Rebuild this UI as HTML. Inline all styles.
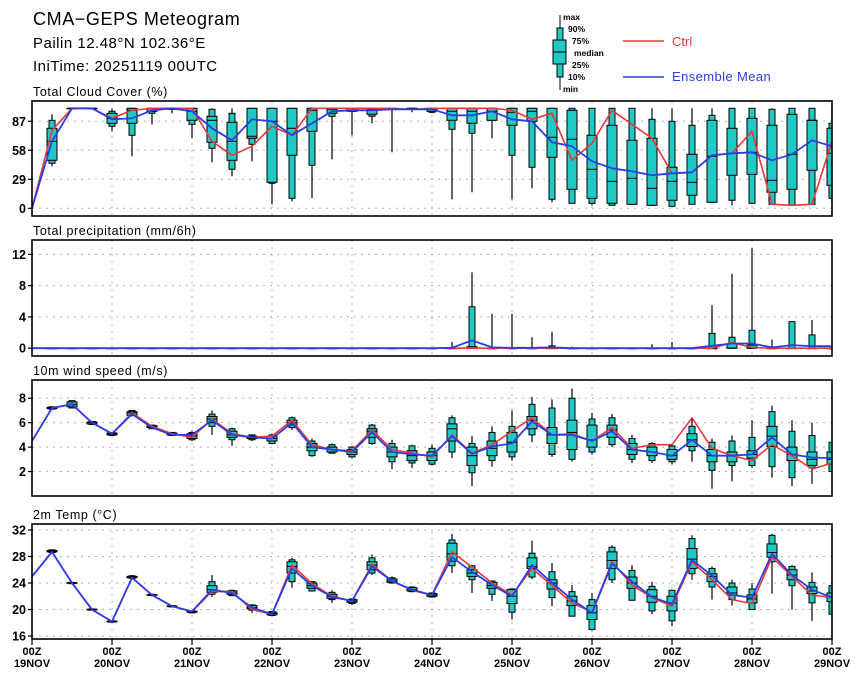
<!DOCTYPE html>
<html><head><meta charset="utf-8"><title>CMA-GEPS Meteogram</title>
<style>
html,body{margin:0;padding:0;background:#fff;}
svg{display:block;font-family:"Liberation Sans",sans-serif;}
</style></head>
<body>
<svg id="chart" width="860" height="678" viewBox="0 0 860 678" xmlns="http://www.w3.org/2000/svg">
<rect x="0" y="0" width="860" height="678" fill="#fff"/>
<text x="33" y="25" font-size="18" letter-spacing="0.6">CMA−GEPS Meteogram</text>
<text x="33" y="48" font-size="15" letter-spacing="0.5">Pailin  12.48°N  102.36°E</text>
<text x="33" y="71" font-size="15" letter-spacing="0.5">IniTime: 20251119 00UTC</text>
<g>
  <line x1="560" y1="15" x2="560" y2="90" stroke="#000" stroke-width="1"/>
  <rect x="557" y="28" width="6" height="49" fill="#1fc8c2" stroke="#000"/>
  <rect x="553" y="40" width="13" height="24" fill="#1fc8c2" stroke="#000"/>
  <line x1="553" y1="52" x2="566" y2="52" stroke="#000"/>
  <g font-size="8.5" font-weight="bold">
    <text x="563" y="20">max</text>
    <text x="568" y="32">90%</text>
    <text x="572" y="44">75%</text>
    <text x="574" y="56">median</text>
    <text x="572" y="68">25%</text>
    <text x="568" y="80">10%</text>
    <text x="563" y="92">min</text>
  </g>
  <line x1="623" y1="41" x2="664" y2="41" stroke="#e8383a" stroke-width="1.5"/>
  <text x="672" y="46" font-size="13" fill="#e8383a">Ctrl</text>
  <line x1="623" y1="77" x2="664" y2="77" stroke="#2a3ee8" stroke-width="1.5"/>
  <text x="672" y="81" font-size="13" fill="#2a3ee8" letter-spacing="0.4">Ensemble Mean</text>
</g>
<g id="panels"></g>
</svg>
<script>
// ---------- time axis ----------
const dayLabels = ["19NOV","20NOV","21NOV","22NOV","23NOV","24NOV","25NOV","26NOV","27NOV","28NOV","29NOV"];
const nSteps = 41; // 6-hourly steps

// ---------- Total cloud cover ----------
const cloudCtrl = [0,78,100,100,90,98,100,100,100,67,53,62,82,73,100,100,100,100,100,99,100,100,100,100,98,89,95,48,65,98,84,70,35,36,53,55,77,4,3,4,67];
const cloudMean = [0,67,100,100,89,90,98,100,97,80,68,89,87,73,85,97,98,98,99,99,99,93,93,97,89,87,66,62,47,40,37,33,35,36,53,55,56,48,54,68,62];
const cloudMax = [null,94,100,100,100,100,100,100,100,100,100,100,100,100,100,100,100,100,100,100,100,100,100,100,100,100,100,100,100,100,100,100,100,100,100,100,100,100,100,100,100];
const cloudP90 = [null,88,100,100,97,100,100,100,100,99,95,100,100,100,100,100,100,100,100,100,100,100,100,100,100,100,100,100,100,100,100,89,87,83,93,100,100,99,100,100,85];
const cloudP75 = [null,80,100,100,95,100,100,100,100,92,86,100,100,100,100,100,100,99,100,100,100,100,100,100,100,100,100,98,73,83,68,70,41,54,88,80,90,83,94,88,80];
const cloudMed = [null,67,100,100,90,98,100,100,97,88,67,72,87,80,98,99,100,99,100,100,99,97,97,97,96,97,71,69,39,27,30,20,27,26,52,55,56,28,54,88,55];
const cloudP25 = [null,48,100,100,85,85,97,99,88,66,48,70,26,53,77,95,97,94,99,99,97,88,85,88,83,87,51,19,10,5,4,3,8,13,6,33,34,16,19,38,23];
const cloudP10 = [null,45,100,100,82,73,95,99,84,60,39,64,25,10,43,92,97,92,99,99,96,79,75,88,53,41,9,5,5,3,4,3,2,4,6,8,5,4,3,4,10];
const cloudMin = [null,42,100,100,77,52,84,95,70,46,32,47,4,7,10,49,73,85,56,96,95,9,16,70,9,20,6,5,3,3,3,3,2,4,6,3,5,4,3,4,5];
const cloudTicks = [0,29,58,87];

// ---------- Precipitation ----------
const precCtrl = [0,0,0,0,0,0,0,0,0,0,0,0,0,0,0,0,0,0,0,0,0,0,0,0,0,0,0,0,0,0,0,0,0,0,0,0.7,0.1,0,0,0,0];
const precMean = [0,0,0,0,0,0,0,0,0,0,0,0,0,0,0,0,0,0,0,0,0,0.05,1.0,0.1,0.05,0.05,0.1,0,0,0,0,0,0,0,0.3,0.6,0.6,0.1,0.4,0.25,0.25];
const precMax = [null,0,0,0,0,0,0,0,0,0,0,0,0,0,0,0,0,0,0,0,0,0.8,9.7,4.4,4.4,1.4,2.1,0.2,0,0,0,0.5,0.8,0,5.5,9.5,12.8,1.1,3.4,3.6,0.3];
const precP90 = [null,0,0,0,0,0,0,0,0,0,0,0,0,0,0,0,0,0,0,0,0,0,5.3,0,0,0,0.3,0,0,0,0,0,0,0,1.9,1.4,2.3,0,3.4,1.7,0];
const precP75 = [null,0,0,0,0,0,0,0,0,0,0,0,0,0,0,0,0,0,0,0,0,0,0.2,0,0,0,0,0,0,0,0,0,0,0,0,0.6,0.4,0,0,0,0];
const precMed = [null,0,0,0,0,0,0,0,0,0,0,0,0,0,0,0,0,0,0,0,0,0,0,0,0,0,0,0,0,0,0,0,0,0,0,0,0,0,0,0,0];
const precP25 = [null,0,0,0,0,0,0,0,0,0,0,0,0,0,0,0,0,0,0,0,0,0,0,0,0,0,0,0,0,0,0,0,0,0,0,0,0,0,0,0,0];
const precP10 = [null,0,0,0,0,0,0,0,0,0,0,0,0,0,0,0,0,0,0,0,0,0,0,0,0,0,0,0,0,0,0,0,0,0,0,0,0,0,0,0,0];
const precMin = [null,0,0,0,0,0,0,0,0,0,0,0,0,0,0,0,0,0,0,0,0,0,0,0,0,0,0,0,0,0,0,0,0,0,0,0,0,0,0,0,0];
const precTicks = [0,4,8,12];

// ---------- 10m wind ----------
const windCtrl = [4.5,7.2,7.5,6.0,5.1,6.8,5.7,5.1,4.8,6.3,5.1,4.8,4.9,6.2,4.2,3.8,3.7,5.4,3.8,3.5,3.2,5.0,3.5,4.2,5.3,6.4,5.0,5.1,4.5,5.6,3.9,4.2,4.2,6.4,3.9,3.3,2.9,4.2,3.3,2.2,2.7];
const windMean = [4.5,7.2,7.5,6.0,5.1,6.7,5.6,5.0,5.0,6.2,5.0,4.8,4.7,6.0,4.0,3.8,3.6,5.2,3.6,3.4,3.3,4.9,3.45,4.05,4.3,6.1,5.0,5.0,4.5,5.3,3.8,3.6,3.3,4.6,3.3,3.3,3.4,4.8,3.4,3.15,3.1];
const windMax = [null,7.3,7.8,6.1,5.2,7.0,5.8,5.2,5.3,7.0,5.6,5.0,5.1,6.5,4.7,4.3,4.1,5.9,4.6,4.2,4.2,6.6,4.9,5.7,7.0,8.1,7.9,8.8,6.8,6.7,5.0,4.4,4.2,6.4,4.7,4.95,6.2,7.4,6.2,6.0,4.4];
const windP90 = [null,7.3,7.8,6.1,5.2,7.0,5.8,5.2,5.2,6.7,5.5,5.0,5.0,6.4,4.5,4.2,4.0,5.8,4.3,4.1,3.9,6.4,4.3,5.2,5.7,7.5,7.2,8.0,6.3,6.4,4.7,4.3,4.1,5.7,4.4,4.5,4.8,6.9,5.3,4.95,4.4];
const windP75 = [null,7.25,7.7,6.05,5.15,6.9,5.75,5.15,5.1,6.5,5.3,4.9,4.9,6.2,4.3,4.0,3.8,5.5,4.0,3.7,3.6,5.9,4.0,4.5,5.2,6.5,5.6,6.2,5.8,5.8,4.3,4.0,3.8,5.1,3.8,3.6,3.7,5.7,4.0,3.6,3.6];
const windMed = [null,7.2,7.5,6.0,5.1,6.8,5.7,5.1,4.9,6.3,5.0,4.8,4.7,6.0,4.0,3.8,3.6,5.3,3.6,3.3,3.3,5.5,3.3,3.9,4.4,6.2,5.0,5.2,4.6,5.4,3.8,3.6,3.3,4.6,3.3,3.3,3.4,4.9,3.4,3.0,3.0];
const windP25 = [null,7.15,7.3,5.9,5.0,6.6,5.6,5.0,4.7,6.0,4.8,4.7,4.5,5.8,3.7,3.6,3.4,4.8,3.2,2.9,2.9,4.5,2.5,3.3,3.6,5.5,4.3,3.8,4.0,4.8,3.4,3.3,3.0,4.05,2.8,2.8,3.1,4.05,2.9,2.5,2.6];
const windP10 = [null,7.1,7.2,5.85,4.95,6.6,5.5,4.95,4.6,5.7,4.6,4.6,4.3,5.6,3.3,3.5,3.2,4.3,2.8,2.7,2.6,3.6,1.9,2.9,3.2,5.0,3.4,3.0,3.6,4.2,3.0,2.9,2.8,3.7,2.1,2.5,2.5,2.4,1.5,2.3,2.0];
const windMin = [null,7.1,7.2,5.8,4.9,6.5,5.5,4.9,4.5,5.0,4.1,4.5,4.3,5.4,3.2,3.5,3.1,4.2,2.2,2.3,2.5,3.1,0.8,2.4,2.9,4.4,3.2,2.8,3.4,4.0,2.7,2.7,2.6,2.8,0.6,1.2,2.3,1.5,0.8,1.0,2.0];
const windTicks = [2,4,6,8];

// ---------- 2m temperature ----------
const tempCtrl = [25.0,28.7,24.0,20.0,18.2,24.8,22.2,20.5,19.7,22.7,22.7,20.0,19.3,26.7,23.9,22.0,21.3,26.8,24.3,22.9,22.2,28.7,26.4,24.0,22.2,26.2,23.6,21.0,19.6,27.2,23.7,21.8,20.5,27.2,24.5,21.5,20.9,27.9,25.0,22.2,21.8];
const tempMean = [25.0,28.7,24.0,20.0,18.2,24.8,22.2,20.5,19.7,23.0,22.5,20.3,19.3,26.2,23.6,21.9,21.3,26.5,24.3,23.0,22.2,27.9,25.7,23.7,22.0,26.7,24.0,21.5,19.5,26.95,24.2,21.9,20.8,27.5,25.1,22.2,21.8,28.4,25.2,23.0,21.8];
const tempMax = [null,29.1,24.2,20.2,18.4,25.2,22.4,20.7,19.9,25.2,23.0,20.8,19.8,27.8,24.3,22.9,21.7,28.3,25.0,23.5,22.6,31.4,26.7,24.4,23.2,30.4,27.0,23.7,22.5,29.7,26.7,24.2,23.0,31.2,26.5,24.5,24.0,31.4,26.7,25.6,23.7];
const tempP90 = [null,29.0,24.1,20.1,18.3,25.1,22.3,20.6,19.8,24.2,22.9,20.7,19.7,27.5,24.2,22.6,21.6,27.8,24.8,23.4,22.5,30.5,26.6,24.3,23.1,28.5,25.7,22.7,21.5,29.4,25.9,23.5,22.9,30.7,26.2,24.0,23.1,31.2,26.5,24.1,23.6];
const tempP75 = [null,28.9,24.05,20.05,18.25,25.0,22.25,20.55,19.75,23.6,22.8,20.6,19.6,27.2,24.0,22.3,21.5,27.2,24.6,23.3,22.4,30.0,26.0,24.1,23.0,27.8,24.5,22.0,20.6,28.7,24.9,23.0,22.0,29.2,25.4,23.4,22.2,29.9,26.0,23.4,22.5];
const tempMed = [null,28.8,24.0,20.0,18.2,24.9,22.2,20.5,19.7,23.0,22.5,20.3,19.4,26.5,23.6,22.0,21.3,26.7,24.3,23.0,22.2,28.4,25.5,23.6,22.0,26.5,24.0,21.3,19.5,27.4,24.0,22.0,21.0,27.6,25.0,22.5,21.6,28.6,25.2,22.8,22.0];
const tempP25 = [null,28.7,23.95,19.95,18.15,24.8,22.15,20.45,19.6,22.6,22.3,20.1,19.2,25.5,23.2,21.7,21.1,26.0,24.1,22.8,22.0,27.3,25.0,23.2,20.9,26.2,23.1,20.6,18.5,26.2,23.2,21.1,19.8,26.2,24.2,22.2,21.0,27.9,24.5,22.4,21.2];
const tempP10 = [null,28.6,23.9,19.9,18.1,24.7,22.1,20.4,19.5,22.3,22.1,19.9,19.1,24.2,22.8,21.5,20.9,25.5,24.0,22.7,21.9,26.6,24.5,22.3,19.6,24.9,21.8,19.0,17.0,24.5,21.4,19.8,18.3,25.4,23.4,21.5,20.0,27.2,23.6,21.0,19.3];
const tempMin = [null,28.6,23.9,19.9,18.0,24.6,22.0,20.3,19.4,21.9,22.0,19.5,19.0,23.3,22.7,21.0,20.7,25.2,23.9,22.6,21.8,25.5,22.5,21.3,18.5,24.6,20.5,19.0,16.8,24.0,21.4,19.3,17.5,24.5,21.5,20.6,20.0,22.4,20.0,18.3,19.3];
const tempTicks = [16,20,24,28,32];

// ---------- drawing ----------
const NS = "http://www.w3.org/2000/svg";
const X0 = 32, X1 = 832;
function xScale(i){ return X0 + (X1 - X0) * i / (nSteps - 1); }
function mk(tag, attrs, parent){
  const e = document.createElementNS(NS, tag);
  for (const k in attrs) e.setAttribute(k, attrs[k]);
  parent.appendChild(e);
  return e;
}
const root = document.getElementById("panels");

function drawPanel(p){
  const g = mk("g", {}, root);
  
  
  const y = v => p.bot - (v - p.vmin) * (p.bot - p.top) / (p.vmax - p.vmin);
  const t = mk("text", {x:33, y:p.top-5, "font-size":12.5, "letter-spacing":0.6}, g);
  t.textContent = p.title;
  
  
  // grid
  for (let d = 1; d < dayLabels.length - 1; d++){
    const gx = xScale(d*4);
    const l = mk("line", {x1:gx, x2:gx, y1:p.top, y2:p.bot, stroke:"#b0b0b0", "stroke-dasharray":"2,5", "stroke-width":1}, g);
    
    
  }
  p.ticks.forEach(v => {
    const gy = y(v);
    const l = mk("line", {x1:X0, x2:X1, y1:gy, y2:gy, stroke:"#b0b0b0", "stroke-dasharray":"2,5", "stroke-width":1}, g);
    
    
    const tk = mk("line", {x1:X0-4, x2:X0, y1:gy, y2:gy, stroke:"#000", "stroke-width":1.2}, g);
    
    
    const tl = mk("text", {x:X0-6, y:gy+4.5, "font-size":12.5, "font-weight":"bold", "text-anchor":"end"}, g);
    tl.textContent = String(v);
    
    
  });
  // clip
  const cid = "clip-" + p.name;
  const cp = mk("clipPath", {id:cid}, g);
  mk("rect", {x:X0, y:p.top, width:X1-X0, height:p.bot-p.top}, cp);
  const inner = mk("g", {"clip-path":"url(#"+cid+")"}, g);
  // boxes
  for (let i = 1; i < nSteps; i++){
    const bx = xScale(i);
    const bg = mk("g", {}, inner);
    
    
    mk("line", {x1:bx, x2:bx, y1:y(p.max[i]), y2:y(p.min[i]), stroke:"#000", "stroke-width":1.2}, bg);
    const y90 = y(p.p90[i]), y10 = y(p.p10[i]);
    mk("rect", {x:bx-3, y:y90, width:6, height:Math.max(y10-y90,0.5), fill:"#1fc8c2", stroke:"#000", "stroke-width":1}, bg);
    const y75 = y(p.p75[i]), y25 = y(p.p25[i]);
    mk("rect", {x:bx-5, y:y75, width:10, height:Math.max(y25-y75,0.5), fill:"#1fc8c2", stroke:"#000", "stroke-width":1}, bg);
    const ym = y(p.med[i]);
    mk("line", {x1:bx-5, x2:bx+5, y1:ym, y2:ym, stroke:"#000", "stroke-width":1}, bg);
  }
  const path = arr => arr.map((v,i)=> (i?"L":"M") + xScale(i).toFixed(1) + "," + y(v).toFixed(1)).join(" ");
  const cl = mk("path", {d:path(p.ctrl), fill:"none", stroke:"#e8383a", "stroke-width":1.6, "stroke-linejoin":"round"}, inner);
  
  
  const ml = mk("path", {d:path(p.mean), fill:"none", stroke:"#2a3ee8", "stroke-width":1.8, "stroke-linejoin":"round"}, inner);
  
  
  const fr = mk("rect", {x:X0, y:p.top, width:X1-X0, height:p.bot-p.top, fill:"none", stroke:"#000", "stroke-width":1.6}, g);
  
  
}

drawPanel({name:"cloud", title:"Total Cloud Cover (%)", top:101, bot:216, vmin:-7.7, vmax:107.3, ticks:cloudTicks,
  ctrl:cloudCtrl, mean:cloudMean, max:cloudMax, p90:cloudP90, p75:cloudP75, med:cloudMed, p25:cloudP25, p10:cloudP10, min:cloudMin});
drawPanel({name:"precip", title:"Total precipitation (mm/6h)", top:240, bot:356, vmin:-1.0, vmax:13.84, ticks:precTicks,
  ctrl:precCtrl, mean:precMean, max:precMax, p90:precP90, p75:precP75, med:precMed, p25:precP25, p10:precP10, min:precMin});
drawPanel({name:"wind", title:"10m wind speed (m/s)", top:380, bot:496, vmin:0, vmax:9.49, ticks:windTicks,
  ctrl:windCtrl, mean:windMean, max:windMax, p90:windP90, p75:windP75, med:windMed, p25:windP25, p10:windP10, min:windMin});
drawPanel({name:"temp", title:"2m Temp (°C)", top:524, bot:639, vmin:15.56, vmax:32.9, ticks:tempTicks,
  ctrl:tempCtrl, mean:tempMean, max:tempMax, p90:tempP90, p75:tempP75, med:tempMed, p25:tempP25, p10:tempP10, min:tempMin});

// x axis labels
const xg = mk("g", {}, root);


dayLabels.forEach((lab, d) => {
  const x = xScale(d*4);
  const tk = mk("line", {x1:x, x2:x, y1:639, y2:645, stroke:"#000", "stroke-width":1.2}, xg);
  
  
  const a = mk("text", {x:x, y:655, "font-size":11, "font-weight":"bold", "text-anchor":"middle"}, xg);
  a.textContent = "00Z";
  
  
  const b = mk("text", {x:x, y:667, "font-size":11, "font-weight":"bold", "text-anchor":"middle"}, xg);
  b.textContent = lab;
  
  
});
</script>
</body></html>
